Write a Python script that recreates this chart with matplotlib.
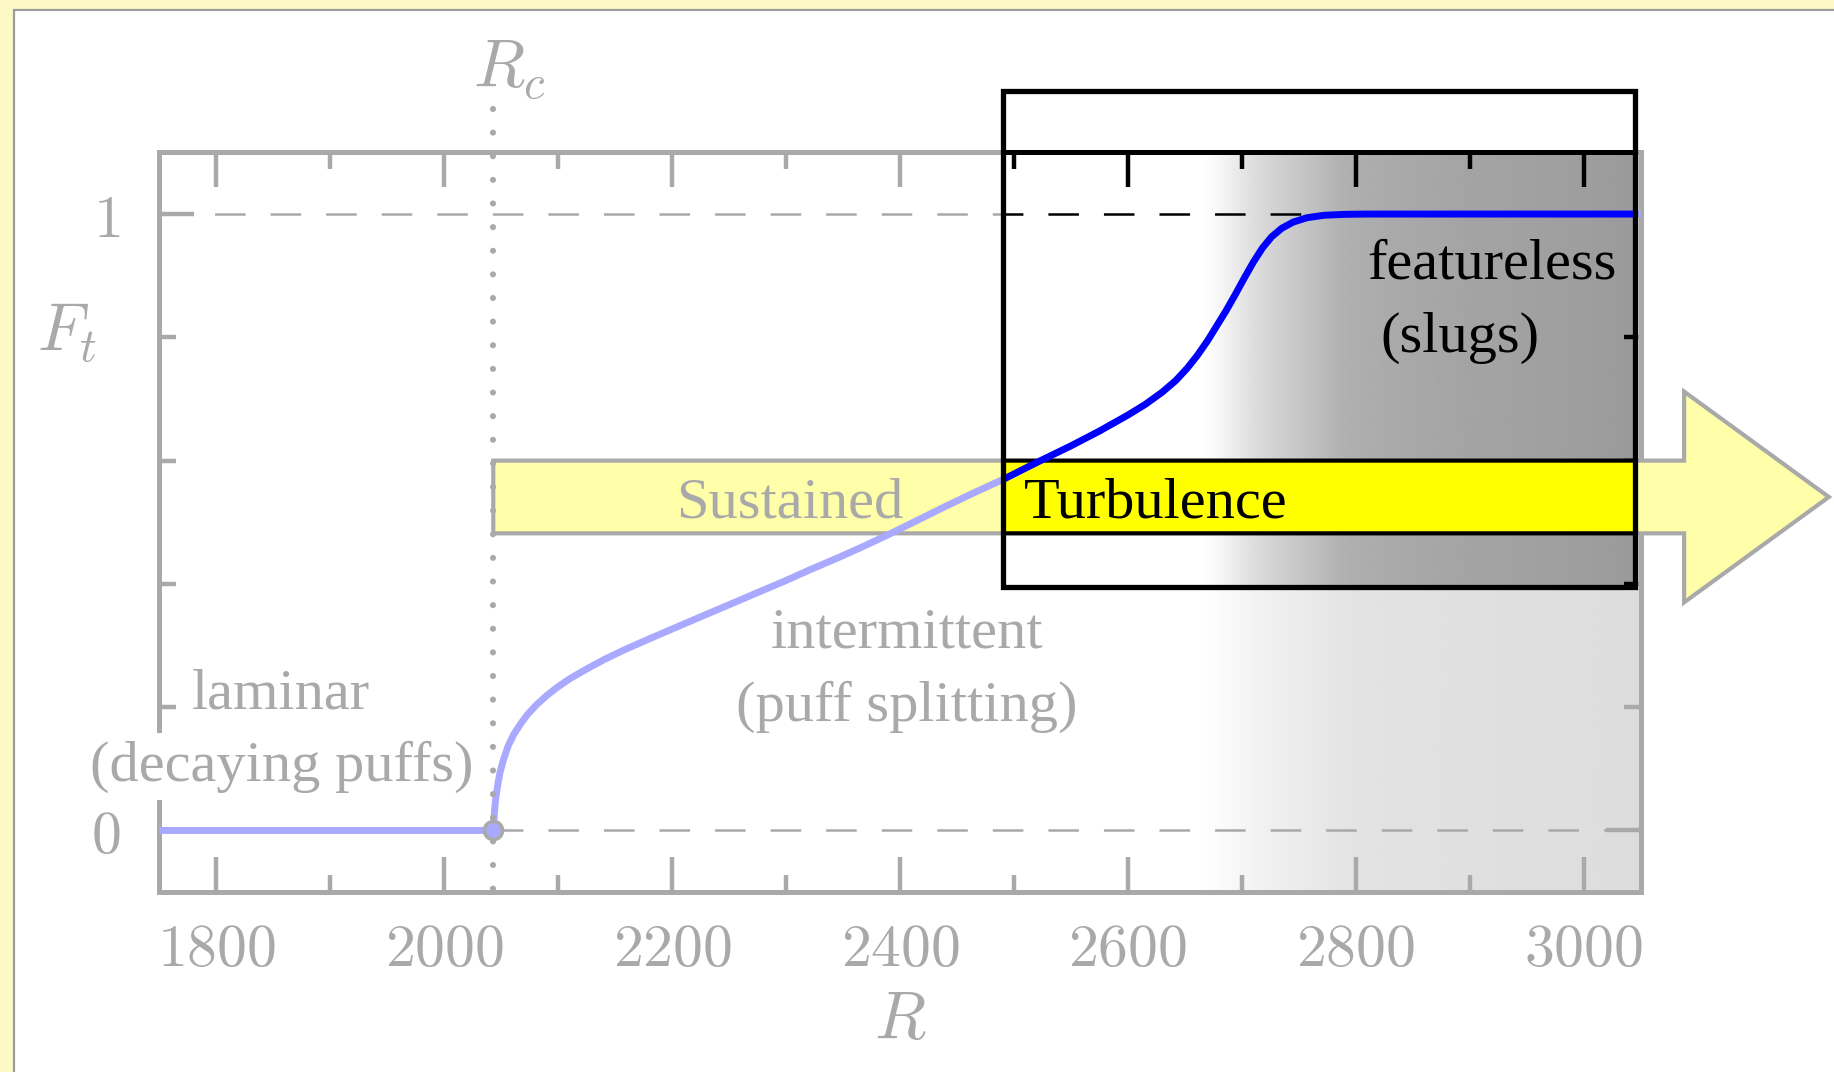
import numpy as np
import matplotlib
matplotlib.use("Agg")
import matplotlib.pyplot as plt
from matplotlib.patches import Rectangle, Polygon, PathPatch
from matplotlib.path import Path

plt.rcParams["mathtext.fontset"] = "cm"
plt.rcParams["lines.scale_dashes"] = False

# Turbulent fraction F_t as a function of Reynolds number R
reynolds = [1750, 2043, 2044, 2045, 2047, 2049, 2052, 2056, 2061, 2067, 2073,
            2081, 2090, 2099, 2110, 2124, 2140, 2158, 2180, 2204, 2228, 2251,
            2275, 2298, 2321, 2345, 2368, 2392, 2415, 2439, 2465, 2491, 2520,
            2550, 2575, 2600, 2615, 2630, 2642, 2652, 2661, 2670, 2678, 2686,
            2694, 2702, 2710, 2718, 2726, 2735, 2745, 2757, 2772, 2790, 2810,
            3050]
turb_fraction = [0.0, 0.0, 0.030, 0.050, 0.075, 0.095, 0.115, 0.137, 0.156,
                 0.173, 0.188, 0.204, 0.219, 0.232, 0.246, 0.261, 0.277, 0.293,
                 0.311, 0.330, 0.349, 0.367, 0.386, 0.404, 0.423, 0.442, 0.461,
                 0.482, 0.503, 0.525, 0.548, 0.570, 0.597, 0.624, 0.648, 0.674,
                 0.691, 0.711, 0.730, 0.750, 0.771, 0.795, 0.819, 0.843, 0.869,
                 0.896, 0.922, 0.945, 0.963, 0.977, 0.987, 0.994, 0.998,
                 0.9995, 1.0, 1.0]

R_CRIT = 2043

x_major = [1800, 2000, 2200, 2400, 2600, 2800, 3000]
x_major_labels = ["1800", "2000", "2200", "2400", "2600", "2800", "3000"]
x_minor = [1900, 2100, 2300, 2500, 2700, 2900]
y_major = [0, 1]
y_major_labels = ["0", "1"]
y_minor = [0.2, 0.4, 0.6, 0.8]

# Highlighted window (sustained-turbulence regime)
window_R = [2490, 3045]
window_F = [0.395, 1.2]

W, H = 1834, 1072
fig = plt.figure(figsize=(W / 100, H / 100), dpi=100)
fig.patch.set_facecolor("#FDF9C6")

# white panel
panel = Rectangle((14 / W, -0.01), 1.02 - 14 / W, 1 - 10 / H + 0.01,
                  transform=fig.transFigure, fc="white", ec="#9C9C9C",
                  lw=1.6, zorder=-5)
fig.add_artist(panel)

x0, x1 = 159.4, 1640.8
y_top, y_bot = 152.4, 892.1
ax = fig.add_axes([x0 / W, 1 - y_bot / H, (x1 - x0) / W, (y_bot - y_top) / H])
ax.set_facecolor("none")

SERIF = "Liberation Serif"
LW_AX = 3.6

# grey shading towards high R
gx = np.linspace(2650, 3050, 600)
stop_R = [2665, 2675, 2688, 2700, 2715, 2740, 2768, 2785, 2800, 2840, 2885, 2930, 3014, 3050]
stop_v = [255, 250, 240, 230, 218, 204, 189, 178, 174, 169, 165, 162, 157, 153]
shade = np.tile(np.interp(gx, stop_R, stop_v), (2, 1))
ax.imshow(shade, extent=[2650, 3050, -0.1, 1.1], aspect="auto", cmap="gray",
          vmin=0, vmax=255, interpolation="bilinear", zorder=0.5)

# reference levels F_t = 0 and 1
for lev in y_major:
    ax.plot([1750, 3050], [lev, lev], color="black", lw=1.8,
            linestyle=(0, (22, 18)), zorder=2)

# "Sustained Turbulence" arrow
band_lo, band_hi = 0.482, 0.600
head_lo, head_hi = 0.37, 0.712
head_base, head_tip = 3088, 3215
arrow = Polygon([(R_CRIT, band_lo), (head_base, band_lo), (head_base, head_lo),
                 (head_tip, (band_lo + band_hi) / 2), (head_base, head_hi),
                 (head_base, band_hi), (R_CRIT, band_hi)], closed=True,
                fc="#FFFF00", ec="black", lw=3.0, joinstyle="miter",
                clip_on=False, zorder=3)
ax.add_patch(arrow)

# turbulent fraction curve
ax.plot(reynolds, turb_fraction, color="#0000FF", lw=5.0, solid_capstyle="butt",
        solid_joinstyle="round", zorder=4)

# critical Reynolds number
ax.plot([R_CRIT, R_CRIT], [1.17, -0.1], color="black", lw=4.4,
        linestyle=(0, (0.01, 17)), dash_capstyle="round", clip_on=False,
        zorder=4.5)
ax.plot([R_CRIT], [0], "o", ms=13, mfc="#0000FF", mec="black", mew=2.6,
        zorder=5, clip_on=False)

ax.text(R_CRIT + 14, 1.205, r"$R_c$", ha="center", va="baseline", fontsize=48,
        color="black", clip_on=False)
ax.text(1643, 0.778, r"$F_t$", ha="left", va="baseline", fontsize=48,
        color="black", clip_on=False)
ax.text(2400, -0.338, r"$R$", ha="center", va="baseline", fontsize=48,
        color="black", clip_on=False)

# regime labels
tkw = dict(fontsize=42, family=SERIF, color="black", va="baseline", zorder=6)
ax.text(1857, 0.198, "laminar", ha="center", **tkw)
ax.text(1857, 0.081, "(decaying puffs)", ha="center",
        bbox=dict(boxstyle="square,pad=0.12", fc="white", ec="none"), **tkw)
ax.text(2406, 0.296, "intermittent", ha="center", **tkw)
ax.text(2406, 0.178, "(puff splitting)", ha="center", **tkw)
ax.text(2403, 0.507, "Sustained", ha="right", **tkw)
ax.text(2509, 0.507, "Turbulence", ha="left", **tkw)
ax.text(2919, 0.896, "featureless", ha="center", **tkw)
ax.text(2891, 0.777, "(slugs)", ha="center", **tkw)

# axes, ticks
ax.set_xlim(1750, 3050)
ax.set_ylim(-0.1, 1.1)
ax.set_xticks(x_major, labels=[f"${t}$" for t in x_major_labels])
ax.set_xticks(x_minor, minor=True)
ax.set_yticks(y_major, labels=[f"${t}$" for t in y_major_labels])
ax.set_yticks(y_minor, minor=True)
ax.tick_params(which="both", direction="in", top=True, right=True,
               width=3.2, color="black", labelcolor="black")
ax.tick_params(which="major", length=25)
ax.tick_params(which="minor", length=12.5)
ax.tick_params(axis="x", which="major", labelsize=43, pad=20)
ax.tick_params(axis="y", which="major", labelsize=43, pad=28)
for sp in ax.spines.values():
    sp.set_linewidth(LW_AX)
    sp.set_color("black")

# everything outside the highlighted window is washed out
to_fig = ax.transData + fig.transFigure.inverted()
(bx0, by0), (bx1, by1) = to_fig.transform([(window_R[0], window_F[0]),
                                           (window_R[1], window_F[1])])
px0, py0 = 14 / W + 0.001, -0.01
px1, py1 = 1.01, 1 - 10 / H - 0.001
verts = [(px0, py0), (px1, py0), (px1, py1), (px0, py1), (px0, py0),
         (bx0, by0), (bx0, by1), (bx1, by1), (bx1, by0), (bx0, by0)]
codes = [Path.MOVETO, Path.LINETO, Path.LINETO, Path.LINETO, Path.CLOSEPOLY,
         Path.MOVETO, Path.LINETO, Path.LINETO, Path.LINETO, Path.CLOSEPOLY]
fig.add_artist(PathPatch(Path(verts, codes), fc="white", ec="none",
                         alpha=2 / 3, transform=fig.transFigure, zorder=10))
fig.add_artist(Rectangle((bx0, by0), bx1 - bx0, by1 - by0,
                         transform=fig.transFigure, fill=False, ec="black",
                         lw=3.8, joinstyle="miter", zorder=11))

fig.savefig("out.png", dpi=100)
